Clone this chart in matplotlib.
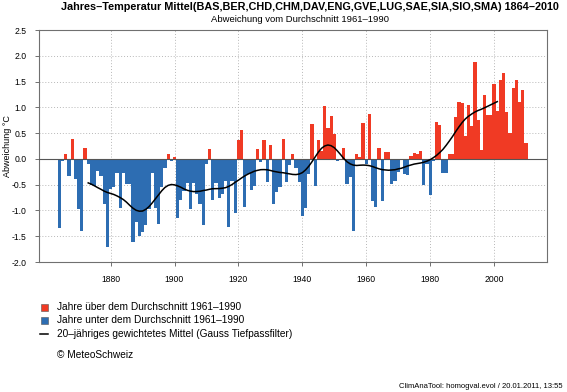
import numpy as np
import matplotlib.pyplot as plt
from matplotlib.patches import Rectangle
from matplotlib.lines import Line2D

plt.rcParams['font.family'] = ['Liberation Sans', 'DejaVu Sans']

# yearly anomalies vs. 1961-1990 (degC)
years = np.arange(1864, 2011)
anomaly = [
    -1.35, -0.05, 0.10, -0.34, 0.39, -0.39, -0.98, -1.39, 0.22, -0.10,   # 1864-1873
    -0.50, -0.52, -0.24, -0.33, -0.88, -1.71, -0.58, -0.55, -0.27, -0.96,  # 1874-1883
    -0.27, -0.49, -0.49, -1.62, -1.23, -1.49, -1.42, -1.29, -0.97, -0.27,  # 1884-1893
    -0.95, -1.27, -0.55, -0.18, 0.10, -0.05, 0.03, -1.14, -0.79, -0.62,    # 1894-1903
    -0.46, -0.97, -0.46, -0.68, -0.88, -1.28, -0.10, 0.20, -0.79, -0.46,   # 1904-1913
    -0.75, -0.68, -0.42, -1.33, -0.42, -1.05, 0.36, 0.57, -0.94, -0.30,    # 1914-1923
    -0.60, -0.52, 0.20, -0.06, 0.37, -0.44, 0.27, -0.87, -0.65, -0.55,     # 1924-1933
    0.39, -0.44, -0.12, 0.09, -0.18, -0.45, -1.10, -0.95, -0.30, 0.67,     # 1934-1943
    -0.52, 0.37, 0.15, 1.02, 0.60, 0.83, 0.48, -0.04, -0.02, 0.22,         # 1944-1953
    -0.49, -0.35, -1.40, 0.09, 0.03, 0.69, -0.10, 0.88, -0.81, -0.94,      # 1954-1963
    0.22, -0.81, 0.14, 0.14, -0.48, -0.42, -0.26, -0.03, -0.29, -0.32,     # 1964-1973
    0.06, 0.12, 0.10, 0.15, -0.50, -0.10, -0.71, -0.05, 0.71, 0.66,        # 1974-1983
    -0.28, -0.28, 0.10, 0.09, 0.82, 1.11, 1.08, 0.44, 1.05, 0.64,          # 1984-1993
    1.87, 0.76, 0.18, 1.23, 0.85, 0.85, 1.46, 0.92, 1.53, 1.67,            # 1994-2003
    0.91, 0.51, 1.37, 1.53, 1.10, 1.33, 0.30,                              # 2004-2010
]
anomaly = np.array(anomaly)

RED = "#f03a24"
BLUE = "#2d6db2"

W, H = 567, 392
fig = plt.figure(figsize=(W / 100, H / 100), dpi=100)
ax = fig.add_axes([39 / W, 1 - 262 / H, (546.5 - 39) / W, (262 - 30) / H])

colors = [RED if v >= 0 else BLUE for v in anomaly]
ax.bar(years, anomaly, width=1.0, color=colors, linewidth=0, zorder=2)


# 20-year gaussian low-pass, only where the full window fits
def gauss_lowpass(y, sigma=3.75, half=9):
    k = np.arange(-half, half + 1)
    w = np.exp(-0.5 * (k / sigma) ** 2)
    w /= w.sum()
    return np.convolve(y, w, mode="valid")


smooth = gauss_lowpass(anomaly)
ax.plot(years[9:-9], smooth, color="black", lw=1.1, zorder=4)

ax.axhline(0, color="#555555", lw=0.8, zorder=3)
ax.set_xlim(1857.6, 2016.4)
ax.set_ylim(-2.0, 2.5)
ax.set_xticks(range(1880, 2001, 20))
ax.set_yticks(np.arange(-2.0, 2.51, 0.5))
ax.set_yticklabels([f"{t:.1f}" for t in np.arange(-2.0, 2.51, 0.5)])
ax.grid(True, ls=(0, (1, 2)), color="#b8b8b8", lw=0.7, zorder=0)
ax.set_axisbelow(True)
for s in ax.spines.values():
    s.set_color("#707070")
    s.set_linewidth(0.8)
ax.tick_params(labelsize=6.2, length=3, width=0.7, color="#707070")
ax.tick_params(axis="x", pad=6)
ax.tick_params(axis="y", pad=6)

fig.text(8 / W, 1 - 146 / H, "Abweichung °C", rotation=90, fontsize=6.5,
         ha="center", va="center")

fig.text(310 / W, 1 - 7 / H,
         "Jahres\u2013Temperatur Mittel(BAS,BER,CHD,CHM,DAV,ENG,GVE,LUG,SAE,SIA,SIO,SMA) 1864\u20132010",
         fontsize=7.8, fontweight="bold", ha="center", va="center")
fig.text(300 / W, 1 - 19 / H, "Abweichung vom Durchschnitt 1961\u20131990",
         fontsize=6.8, ha="center", va="center")

# legend below the plot
leg_rows = [
    (307, "square", RED, "Jahre \u00fcber dem Durchschnitt 1961\u20131990"),
    (320, "square", BLUE, "Jahre unter dem Durchschnitt 1961\u20131990"),
    (334, "line", "black", "20\u2013j\u00e4hriges gewichtetes Mittel (Gauss Tiefpassfilter)"),
]
for y, kind, c, label in leg_rows:
    if kind == "square":
        fig.add_artist(Rectangle((41 / W, 1 - (y + 3.5) / H), 7 / W, 7 / H,
                                 transform=fig.transFigure, facecolor=c,
                                 edgecolor="#555555", linewidth=0.4))
    else:
        fig.add_artist(Line2D([40 / W, 48 / W], [1 - y / H, 1 - y / H],
                              transform=fig.transFigure, color=c, lw=1.1))
    fig.text(57 / W, 1 - y / H, label, fontsize=7.3, ha="left", va="center")

fig.text(57 / W, 1 - 355 / H, "\u00a9 MeteoSchweiz", fontsize=7.3, ha="left", va="center")
fig.text(563 / W, 1 - 386 / H, "ClimAnaTool: homogval.evol / 20.01.2011, 13:55",
         fontsize=5.5, ha="right", va="center")

fig.savefig("out.png", dpi=100)
